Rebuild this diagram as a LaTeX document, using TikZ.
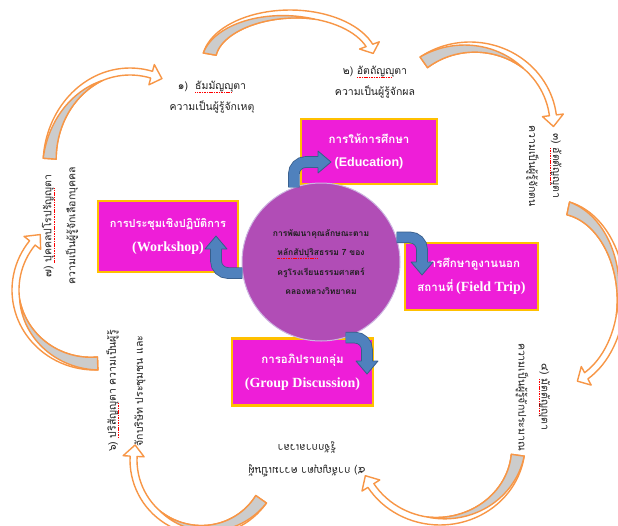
\documentclass[tikz,border=0pt]{standalone}
\usepackage{fontspec}
\setmainfont{Liberation Serif}
\newfontfamily\thai[Script=Thai]{Loma}
\newfontfamily\latinserif{Liberation Serif}
\newfontfamily\latinsans{Liberation Sans}

\definecolor{boxfill}{RGB}{238,30,216}
\definecolor{boxedge}{RGB}{255,192,0}
\definecolor{hubfill}{RGB}{177,77,182}
\definecolor{hubedge}{RGB}{205,180,225}
\definecolor{bluefill}{RGB}{79,129,189}
\definecolor{blueedge}{RGB}{56,93,138}
\definecolor{curveorange}{RGB}{247,150,70}
\definecolor{curvegray}{RGB}{204,204,204}
\definecolor{inktext}{RGB}{30,30,30}

% red spell-check line under a word
\newsavebox{\spellbox}
\newcommand{\redwave}[1]{\sbox{\spellbox}{#1}\rlap{\raisebox{-3pt}{\color{red}\leaders\hbox{\rule{1.1pt}{0.6pt}\kern0.6pt}\hskip\wd\spellbox}}\usebox{\spellbox}}

\def\bandw{13}
\def\frontw{7}
\def\barb{7}

% curved arrow on an ellipse: centre x, centre y, rx, ry, tail angle, head angle
\newcommand{\orangearrow}[6]{%
  \pgfmathsetmacro{\arrdir}{sign(#6-#5)}%
  \pgfmathsetmacro{\arrtip}{#6+\arrdir*1375/(#3+#4)}%
  \pgfmathsetmacro{\arrmid}{#5+0.65*(#6-#5)}%
  \draw[ringarrow] plot[domain=#5:#6] ({#1+#3*cos(\x)}, {#2+#4*sin(\x)})
    -- ({#1+(#3+\barb)*cos(#6)}, {#2+(#4+\barb)*sin(#6)})
    -- ({#1+(#3-\frontw/2)*cos(\arrtip)}, {#2+(#4-\frontw/2)*sin(\arrtip)})
    -- ({#1+(#3-\frontw-\barb)*cos(#6)}, {#2+(#4-\frontw-\barb)*sin(#6)})
    -- plot[domain=#6:#5] ({#1+(#3-\frontw-(\bandw-\frontw)*max(0,1-(\x-(#5))/(\arrmid-(#5))))*cos(\x)},
                          {#2+(#4-\frontw-(\bandw-\frontw)*max(0,1-(\x-(#5))/(\arrmid-(#5))))*sin(\x)})
    -- cycle;
  \draw[ringarrow, fill=curvegray] plot[domain=#5:\arrmid] ({#1+(#3-\frontw*(\x-(#5))/(\arrmid-(#5)))*cos(\x)},
                                                        {#2+(#4-\frontw*(\x-(#5))/(\arrmid-(#5)))*sin(\x)})
    -- plot[domain=\arrmid:#5] ({#1+(#3-\bandw+(\bandw-\frontw)*(\x-(#5))/(\arrmid-(#5)))*cos(\x)},
                               {#2+(#4-\bandw+(\bandw-\frontw)*(\x-(#5))/(\arrmid-(#5)))*sin(\x)})
    -- cycle;
}

\begin{document}
\begin{tikzpicture}[x=1pt, y=-1pt]

    \tikzstyle{ringarrow} = [draw=curveorange, line width=1.4pt, fill=white, line join=round, samples=40]
    \tikzstyle{box}       = [rectangle, draw=boxedge, line width=2.4pt, fill=boxfill, text=white, align=center, inner sep=2pt,
                             font=\fontsize{11.5}{23}\selectfont]
    \tikzstyle{hub}       = [circle, fill=hubfill, draw=hubedge, line width=1pt, minimum size=158, align=center,
                             text=inktext, font=\thai\bfseries\fontsize{8.5}{19.3}\selectfont]
    \tikzstyle{blurb}     = [align=center, inner sep=0pt, text=inktext, font=\thai\fontsize{10.5}{21}\selectfont]
    \tikzstyle{bluebend}  = [draw=blueedge, line width=0.8pt, double=bluefill, double distance=10pt, rounded corners=12pt]
    \tikzset{bluehead/.pic={
        \fill[bluefill] (0,-11) -- (13,0) -- (0,11) -- cycle;
        \draw[blueedge, line width=0.8pt, line join=round] (0,-5.4) -- (0,-11) -- (13,0) -- (0,11) -- (0,5.4);
    }}

    \useasboundingbox (0,0) rectangle (618,525);
    \clip (0,0) rectangle (618,525);

    % outer ring
    \orangearrow{130}{165}{87}{97}{184}{285}
    \orangearrow{290}{62}{88}{52}{190}{340}
    \orangearrow{470}{125}{87}{83}{235}{353}
    \orangearrow{555}{295}{70}{95}{282}{422}
    \orangearrow{440}{445}{85}{80}{8}{148}
    \orangearrow{205}{460}{75}{75}{35}{183}
    \orangearrow{95}{290}{83}{80}{88}{218}

    \node [blurb] (t1) at (212, 97) {๑)~~\redwave{ธัมมัญญุ}ตา \\ ความเป็นผู้รู้จักเหตุ};
    \node [blurb] (t2) at (375, 82) {๒) \redwave{อัตถัญญุ}ตา \\ ความเป็นผู้รู้จักผล};
    \node [blurb, rotate=-90, font=\thai\fontsize{10.5}{24}\selectfont] (t3) at (544, 166) {๓) \redwave{อัตตัญญุ}ตา \\ ความเป็นผู้รู้จักตน};
    \node [blurb, rotate=-90, font=\thai\fontsize{10.5}{23}\selectfont] (t4) at (533, 397) {๔) \redwave{มัตตัญญุ}ตา \\ ความเป็นผู้รู้จักประมาณ};
    \node [blurb, rotate=180, font=\thai\fontsize{10.5}{23}\selectfont] (t5) at (307, 459) {๕) กาลัญญุตา ความเป็นผู้ \\ รู้จักกาลเวลา};
    \node [blurb, rotate=90, font=\thai\fontsize{10.5}{27}\selectfont] (t6) at (126, 391) {๖) \redwave{ปริสัญญุ}ตา ความเป็นผู้รู้ \\ จักบริษัท ประชุมชน และ};
    \node [blurb, rotate=90, font=\thai\fontsize{10.5}{24}\selectfont] (t7) at (60, 226) {๗) \redwave{ปุคคลปโรปรัญญุ}ตา \\ ความเป็นผู้รู้จักเลือกบุคคล};

    \node [box, minimum width=136, minimum height=65] (edu) at (369, 151.5)
        {{\thai\bfseries การให้การศึกษา} \\ {\latinsans\bfseries\fontsize{12.5}{23}\selectfont (Education)}};
    \node [box, minimum width=140, minimum height=71, font=\fontsize{11}{24}\selectfont] (work) at (168, 236.5)
        {{\thai\bfseries การประชุมเชิงปฏิบัติการ} \\ {\latinserif\bfseries\fontsize{14}{24}\selectfont (Workshop)}};
    \node [box, minimum width=133, minimum height=67, font=\fontsize{11.5}{24}\selectfont] (trip) at (471.5, 276.5)
        {{\thai\bfseries การศึกษาดูงานนอก} \\ {\thai\bfseries สถานที่} {\latinserif\bfseries\fontsize{14}{24}\selectfont (Field Trip)}};
    \node [box, minimum width=141, minimum height=67, font=\fontsize{11.5}{24}\selectfont] (group) at (302.5, 372)
        {{\thai\bfseries การอภิปรายกลุ่ม} \\ {\latinserif\bfseries\fontsize{14}{24}\selectfont (Group Discussion)}};

    \node [hub] (hub) at (321, 262) {การพัฒนาคุณลักษณะตาม \\ \redwave{หลักสัปปุริส}ธรรม 7 ของ \\ ครูโรงเรียนธรรมศาสตร์ \\ คลองหลวงวิทยาคม};

    \coordinate (eduBase) at (318, 162);
    \coordinate (workBase) at (216, 249);
    \coordinate (tripBase) at (422, 262);
    \coordinate (groupBase) at (367, 361);

    \draw [bluebend] (hub.110) |- (eduBase);
    \pic at (eduBase) {bluehead};
    \draw [bluebend] (hub.188) -| (workBase);
    \pic [rotate=90] at (workBase) {bluehead};
    \draw [bluebend] (hub.18) -| (tripBase);
    \pic [rotate=-90] at (tripBase) {bluehead};
    \draw [bluebend] (hub.-72) -| (groupBase);
    \pic [rotate=-90] at (groupBase) {bluehead};
\end{tikzpicture}
\end{document}
